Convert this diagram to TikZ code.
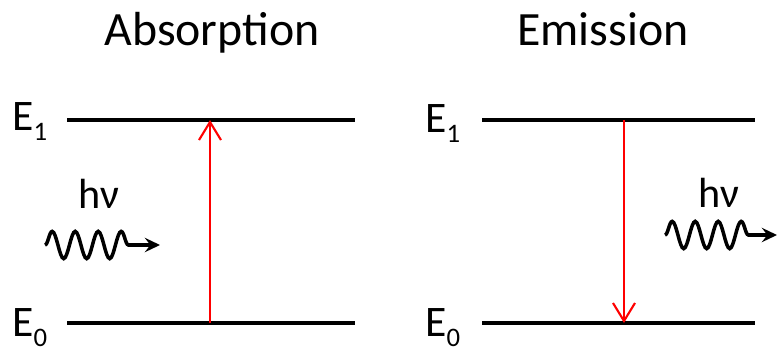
\documentclass[tikz,border=0pt]{standalone}
\usepackage{fontspec}
\setmainfont{Carlito}
\usetikzlibrary{arrows.meta,decorations.pathmorphing}
\tikzset{
  headtext/.style={anchor=base, inner sep=0pt, font=\fontsize{34}{40}\selectfont},
  lvltext/.style={anchor=base west, inner sep=0pt, font=\fontsize{31}{36}\selectfont},
  photontext/.style={anchor=base west, inner sep=0pt, font=\fontsize{30}{36}\selectfont},
  levelline/.style={line width=2.2pt, color=black},
  rarr/.style={-{Straight Barb[length=4.5mm,width=5.5mm]}, line width=1.5pt, color=red},
  wavearr/.style={-{Stealth[length=3.8mm,width=3.6mm,inset=1.4mm]}, line width=2.5pt,
                  decorate, decoration={snake, segment length=5.75mm, amplitude=3.4mm,
                  post length=5.5mm}}}
\newcommand{\lvlsub}[1]{\raisebox{-0.27cm}{\fontsize{19}{22}\selectfont #1}}

\begin{document}
\begin{tikzpicture}[x=0.025cm, y=-0.025cm]
    \useasboundingbox (0,0) rectangle (778,351);
    % titles
    \node[headtext] (abs) at (212,45) {Absorption};
    \node[headtext] (emi) at (603,45) {Emission};
    % absorption side
    \coordinate (a1w) at (67,120);
    \coordinate (a1e) at (355,120);
    \coordinate (a0w) at (67,323);
    \coordinate (a0e) at (355,323);
    \draw[levelline] (a1w) -- (a1e);
    \draw[levelline] (a0w) -- (a0e);
    \node[lvltext] (aE1) at (12,130) {E\lvlsub{1}};
    \node[lvltext] (aE0) at (12,336) {E\lvlsub{0}};
    \coordinate (aup0) at (210,323);
    \coordinate (aup1) at (210,120);
    \draw[rarr] (aup0) -- (aup1);
    \node[photontext] (ahv) at (78,208) {hν};
    \coordinate (awav0) at (45,245);
    \coordinate (awav1) at (160,245);
    \draw[wavearr] (awav0) -- (awav1);
    % emission side
    \coordinate (e1w) at (482,120);
    \coordinate (e1e) at (755,120);
    \coordinate (e0w) at (482,323);
    \coordinate (e0e) at (755,323);
    \draw[levelline] (e1w) -- (e1e);
    \draw[levelline] (e0w) -- (e0e);
    \node[lvltext] (eE1) at (425,132) {E\lvlsub{1}};
    \node[lvltext] (eE0) at (425,336) {E\lvlsub{0}};
    \coordinate (edn1) at (624,120);
    \coordinate (edn0) at (624,323);
    \draw[rarr] (edn1) -- (edn0);
    \node[photontext] (ehv) at (698,207) {hν};
    \coordinate (ewav0) at (665,235);
    \coordinate (ewav1) at (777,235);
    \draw[wavearr] (ewav0) -- (ewav1);
\end{tikzpicture}
\end{document}
